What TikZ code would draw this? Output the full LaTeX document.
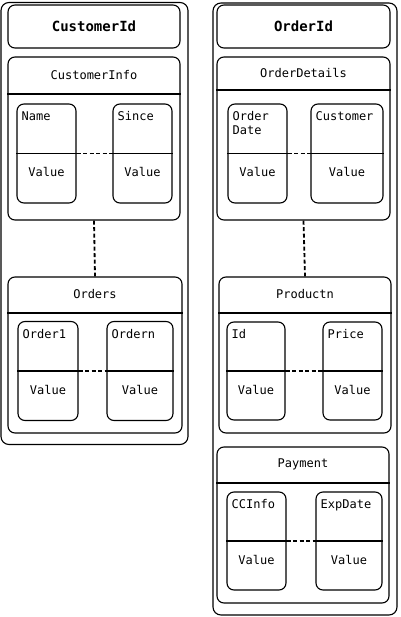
\documentclass[tikz,border=0pt]{standalone}
\usepackage{fontspec}
\setmonofont{DejaVu Sans Mono}
\usepackage{tikz}

\tikzset{
  box/.style={draw, line width=1.1pt, rounded corners=7pt, inner sep=0pt},
  field/.style={box, minimum height=99},
  key/.style={anchor=north west, inner xsep=5pt, inner ysep=8pt, align=left,
    font=\ttfamily\fontsize{12}{14}\selectfont},
  val/.style={font=\ttfamily\fontsize{12}{14}\selectfont},
  title/.style={font=\ttfamily\bfseries\fontsize{14}{16}\selectfont},
  rule/.style={line width=1.1pt},
  link/.style={line width=1.8pt, dash pattern=on 4pt off 2.5pt},
}

\begin{document}
\begin{tikzpicture}[x=1pt, y=-1pt]
  \useasboundingbox (0,0) rectangle (400,617);

  % customer side
  \node[box, rounded corners=8pt, minimum width=187, minimum height=442] (cust) at (94.5,223.5) {};
  \node[box, minimum width=172, minimum height=43] (custId) at (94,26.5) {};
  \node[title] (custIdT) at (custId.center) {CustomerId};

  \node[box, minimum width=172, minimum height=163] (info) at (94,138.5) {};
  \node[val] (infoT) at ([yshift=-18.5]info.north) {CustomerInfo};
  \draw[rule] (info.west |- 0,94) -- (info.east |- 0,94);
  \node[field, minimum width=59] (name) at (46.5,153.5) {};
  \draw[rule] (name.west) -- (name.east);
  \node[key] (nameK) at (name.north west) {Name};
  \node[val] (nameV) at ([yshift=-18.5]name.center) {Value};
  \node[field, minimum width=59] (since) at (142.5,153.5) {};
  \draw[rule] (since.west) -- (since.east);
  \node[key] (sinceK) at (since.north west) {Since};
  \node[val] (sinceV) at ([yshift=-18.5]since.center) {Value};
  \draw[link] (name.east) -- (since.west);

  \node[box, minimum width=174, minimum height=156] (orders) at (95,355) {};
  \node[val] (ordersT) at ([yshift=-18]orders.north) {Orders};
  \draw[rule] (orders.west |- 0,313) -- (orders.east |- 0,313);
  \node[field, minimum width=60] (ord1) at (48,371) {};
  \draw[rule] (ord1.west) -- (ord1.east);
  \node[key] (ord1K) at (ord1.north west) {Order1};
  \node[val] (ord1V) at ([yshift=-18.5]ord1.center) {Value};
  \node[field, minimum width=66] (ordn) at (140,371) {};
  \draw[rule] (ordn.west) -- (ordn.east);
  \node[key] (ordnK) at (ordn.north west) {Ordern};
  \node[val] (ordnV) at ([yshift=-18.5]ordn.center) {Value};
  \draw[link] (ord1.east) -- (ordn.west);

  \draw[link] (info.south) -- (orders.north);

  % order side
  \node[box, rounded corners=8pt, minimum width=184, minimum height=612] (order) at (305,309) {};
  \node[box, minimum width=173, minimum height=43] (orderId) at (303.5,26.5) {};
  \node[title] (orderIdT) at (orderId.center) {OrderId};

  \node[box, minimum width=173, minimum height=163] (details) at (303.5,138.5) {};
  \node[val] (detailsT) at ([yshift=-17]details.north) {OrderDetails};
  \draw[rule] (details.west |- 0,90) -- (details.east |- 0,90);
  \node[field, minimum width=59] (date) at (257.5,153.5) {};
  \draw[rule] (date.west) -- (date.east);
  \node[key] (dateK) at (date.north west) {Order\\Date};
  \node[val] (dateV) at ([yshift=-18.5]date.center) {Value};
  \node[field, minimum width=72] (buyer) at (347,153.5) {};
  \draw[rule] (buyer.west) -- (buyer.east);
  \node[key] (buyerK) at (buyer.north west) {Customer};
  \node[val] (buyerV) at ([yshift=-18.5]buyer.center) {Value};
  \draw[link] (date.east) -- (buyer.west);

  \node[box, minimum width=172, minimum height=156] (prod) at (305,355) {};
  \node[val] (prodT) at ([yshift=-18]prod.north) {Productn};
  \draw[rule] (prod.west |- 0,313) -- (prod.east |- 0,313);
  \node[field, minimum width=58, minimum height=98] (pid) at (256,371) {};
  \draw[rule] (pid.west) -- (pid.east);
  \node[key] (pidK) at (pid.north west) {Id};
  \node[val] (pidV) at ([yshift=-18.5]pid.center) {Value};
  \node[field, minimum width=59, minimum height=98] (price) at (352.5,371) {};
  \draw[rule] (price.west) -- (price.east);
  \node[key] (priceK) at (price.north west) {Price};
  \node[val] (priceV) at ([yshift=-18.5]price.center) {Value};
  \draw[link] (pid.east) -- (price.west);

  \draw[link] (details.south) -- (prod.north);

  \node[box, minimum width=172, minimum height=156] (pay) at (303,525) {};
  \node[val] (payT) at ([yshift=-18]pay.north) {Payment};
  \draw[rule] (pay.west |- 0,483) -- (pay.east |- 0,483);
  \node[field, minimum width=59, minimum height=98] (cc) at (256.5,541) {};
  \draw[rule] (cc.west) -- (cc.east);
  \node[key] (ccK) at (cc.north west) {CCInfo};
  \node[val] (ccV) at ([yshift=-18.5]cc.center) {Value};
  \node[field, minimum width=66, minimum height=98] (exp) at (349,541) {};
  \draw[rule] (exp.west) -- (exp.east);
  \node[key] (expK) at (exp.north west) {ExpDate};
  \node[val] (expV) at ([yshift=-18.5]exp.center) {Value};
  \draw[link] (cc.east) -- (exp.west);
\end{tikzpicture}
\end{document}
